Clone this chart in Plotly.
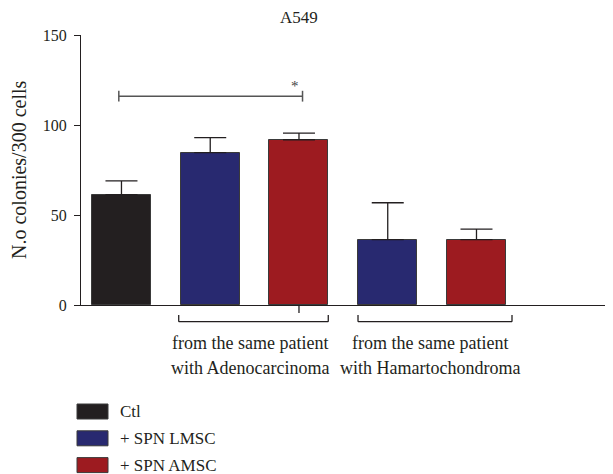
import plotly.graph_objects as go

# ---- data ----
series_names = ["Ctl", "+ SPN LMSC", "+ SPN AMSC"]
series_colors = ["#231f20", "#282970", "#9d1b20"]
bar_pos = [[0], [1, 3], [2, 4]]
bar_vals = [[61.3], [84.6, 36.3], [91.8, 36.3]]
bar_err = [[7.7], [8.4, 20.5], [3.7, 5.9]]
yticks = [0, 50, 100, 150]
title = "A549"
ytitle = "N.o colonies/300 cells"
sig_from, sig_to, sig_y, sig_text = 0, 2, 116, "*"
group_lines = [["from the same patient", "with Adenocarcinoma"],
               ["from the same patient", "with Hamartochondroma"]]
group_span = [[0.645, 2.33], [2.665, 4.40]]
group_center = [1.45, 3.48]

FONT = "Liberation Serif"
DARK = "#231f20"
PW = 532.0  # plot width px
PH = 270.0  # plot height px

fig = go.Figure()
for name, col, xs, vs, es in zip(series_names, series_colors, bar_pos, bar_vals, bar_err):
    fig.add_trace(go.Bar(
        x=xs, y=vs, name=name, width=0.665,
        marker=dict(color=col, line=dict(color="#3a3a3a", width=1)),
        error_y=dict(type="data", array=es, arrayminus=[0] * len(es), symmetric=False,
                     color=DARK, thickness=1.3, width=16),
        showlegend=False,
    ))

shapes = []
# significance bracket
shapes.append(dict(type="line", xref="x", yref="y", x0=sig_from - 0.03, x1=sig_to + 0.04,
                   y0=sig_y, y1=sig_y, line=dict(color="#555", width=1.5)))
for xx in (sig_from - 0.03, sig_to + 0.04):
    shapes.append(dict(type="line", xref="x", yref="y", x0=xx, x1=xx,
                       y0=sig_y - 3, y1=sig_y + 3, line=dict(color="#555", width=1.5)))

annotations = [dict(text=sig_text, x=sig_to - 0.04, y=sig_y + 5.5, xref="x", yref="y",
                    showarrow=False, font=dict(family=FONT, size=15, color="#444"))]

# small tick below axis
shapes.append(dict(type="line", xref="x", yref="paper", x0=2, x1=2, y0=0, y1=-8 / PH,
                   line=dict(color=DARK, width=1.3)))
# group brackets
for (a, b), c, lines in zip(group_span, group_center, group_lines):
    shapes.append(dict(type="line", xref="x", yref="paper", x0=a, x1=b, y0=-16.7 / PH, y1=-16.7 / PH,
                       line=dict(color=DARK, width=1.3)))
    for xx in (a, b):
        shapes.append(dict(type="line", xref="x", yref="paper", x0=xx, x1=xx, y0=-16.7 / PH, y1=-10 / PH,
                           line=dict(color=DARK, width=1.3)))
    for i, t in enumerate(lines):
        annotations.append(dict(text=t, x=c, y=[-38 / PH, -62.7 / PH][i], xref="x", yref="paper",
                                xanchor="center", yanchor="middle", showarrow=False,
                                font=dict(family=FONT, size=18, color=DARK)))

# legend (drawn manually)
for i, (name, col) in enumerate(zip(series_names, series_colors)):
    yc = -(106.5 + i * 26.8) / PH
    shapes.append(dict(type="rect", xref="paper", yref="paper", x0=-4 / PW, x1=27 / PW,
                       y0=yc - 7.5 / PH, y1=yc + 7.5 / PH, fillcolor=col,
                       line=dict(color="#3a3a3a", width=1)))
    annotations.append(dict(text=name, x=37 / PW, y=yc, xref="paper", yref="paper",
                            xanchor="left", yanchor="middle", showarrow=False,
                            font=dict(family=FONT, size=17, color=DARK)))

# title and y title
annotations.append(dict(text=title, x=(299 - 81) / PW, y=1 + 18 / PH, xref="paper", yref="paper",
                        xanchor="center", yanchor="middle", showarrow=False,
                        font=dict(family=FONT, size=17, color=DARK)))
annotations.append(dict(text=ytitle, x=(19 - 81) / PW, y=0.5, xref="paper", yref="paper",
                        xanchor="center", yanchor="middle", textangle=-90, showarrow=False,
                        font=dict(family=FONT, size=20, color=DARK)))

# page body has an 8px default margin; compensate so the plot area lands at x 81..613, y 35..305
fig.update_layout(
    width=605, height=466,
    margin=dict(l=73, r=0, t=27, b=169, autoexpand=False),
    paper_bgcolor="white", plot_bgcolor="white",
    shapes=shapes, annotations=annotations,
    bargap=0,
    xaxis=dict(range=[-0.456, 5.538], showticklabels=False, ticks="", showgrid=False,
               zeroline=False, showline=True, linecolor=DARK, linewidth=1.3),
    yaxis=dict(range=[0, 150], tickvals=yticks, ticks="outside", ticklen=6, tickwidth=1.3,
               tickcolor=DARK, showgrid=False, zeroline=False, showline=True,
               linecolor=DARK, linewidth=1.3, ticklabelstandoff=4,
               tickfont=dict(family=FONT, size=16, color=DARK)),
)

fig.write_html("out.html")
